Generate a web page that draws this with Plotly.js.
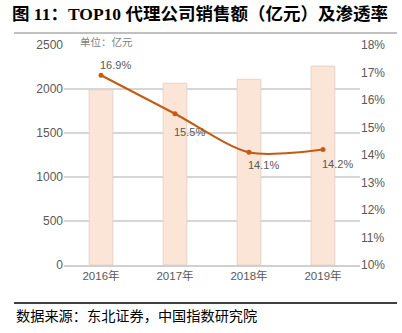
<!DOCTYPE html>
<html><head><meta charset="utf-8">
<script src="https://cdn.plot.ly/plotly-3.0.1.min.js"></script>
<style>html,body{margin:0;padding:0;background:#fff}#c{width:402px;height:333px}</style>
</head><body><div id="c"></div>
<script>
const categories = ['2016年', '2017年', '2018年', '2019年'];
const salesValues = [1990, 2065, 2110, 2260];
const penetrationRate = [16.9, 15.5, 14.1, 14.2];
const rateLabels = ['16.9%', '15.5%', '14.1%', '14.2%'];
const labelYShift = [10, -18, -13, -14];

const gray = '#595959';
const traces = [
  {type: 'bar', x: categories, y: salesValues, width: 0.32,
   marker: {color: '#FBE5D6', line: {color: '#E6D3C8', width: 1}}, hoverinfo: 'none'},
  {type: 'scatter', mode: 'lines+markers', x: categories, y: penetrationRate, yaxis: 'y2',
   line: {color: '#C55A11', width: 2, shape: 'spline', smoothing: 0.8},
   marker: {color: '#C55A11', size: 5}, cliponaxis: false}
];
const ann = categories.map((c, i) => ({
  x: c, y: penetrationRate[i], xref: 'x', yref: 'y2', text: rateLabels[i], showarrow: false,
  xshift: 14, yshift: labelYShift[i], font: {family: 'Liberation Sans, Arial', size: 11, color: gray}
}));
ann.push({x: 0.047, y: 1.014, xref: 'paper', yref: 'paper', xanchor: 'left', yanchor: 'middle',
  text: '单位：亿元', showarrow: false, font: {family: 'Noto Sans CJK SC', size: 10.5, color: '#7f7f7f'}});
ann.push({x: -0.169, y: -0.227, xref: 'paper', yref: 'paper', xanchor: 'left', yanchor: 'middle',
  text: '数据来源：东北证券，中国指数研究院', showarrow: false,
  font: {family: 'Noto Sans CJK SC', size: 14.2, color: '#000'}});

const layout = {
  width: 402, height: 333,
  margin: {l: 64, r: 42, t: 45, b: 68},
  paper_bgcolor: '#fff', plot_bgcolor: '#fff',
  showlegend: false,
  title: {text: '<b>图 11：TOP10 代理公司销售额（亿元）及渗透率</b>', x: 12/402, xanchor: 'left',
    y: 1 - 14/333, yanchor: 'middle', font: {family: 'Liberation Serif, Noto Sans CJK SC', size: 17.5, color: '#000'}},
  xaxis: {type: 'category', showgrid: false, showline: true, linecolor: '#d0d0d0', linewidth: 1.5,
    ticks: '', tickfont: {family: 'Liberation Sans, Noto Sans CJK SC', size: 11.5, color: gray}, fixedrange: true},
  yaxis: {range: [0, 2500], dtick: 500, showgrid: true, gridcolor: '#d6d6d6', gridwidth: 1.5,
    zeroline: false, showline: false, ticks: '', tickfont: {family: 'Liberation Sans', size: 12, color: gray}},
  yaxis2: {overlaying: 'y', side: 'right', range: [10, 18], dtick: 1, ticksuffix: '%', showgrid: false,
    zeroline: false, showline: false, ticks: '', tickfont: {family: 'Liberation Sans', size: 12, color: gray}},
  annotations: ann,
  shapes: [
    {type: 'line', xref: 'paper', yref: 'paper', x0: -0.169, x1: 1.125, y0: 1.0545, y1: 1.0545,
     line: {color: '#808080', width: 1}},
    {type: 'line', xref: 'paper', yref: 'paper', x0: -0.169, x1: 1.125, y0: -0.1727, y1: -0.1727,
     line: {color: '#000', width: 1.5}}
  ]
};
Plotly.newPlot('c', traces, layout, {displayModeBar: false, staticPlot: true});
</script></body></html>
